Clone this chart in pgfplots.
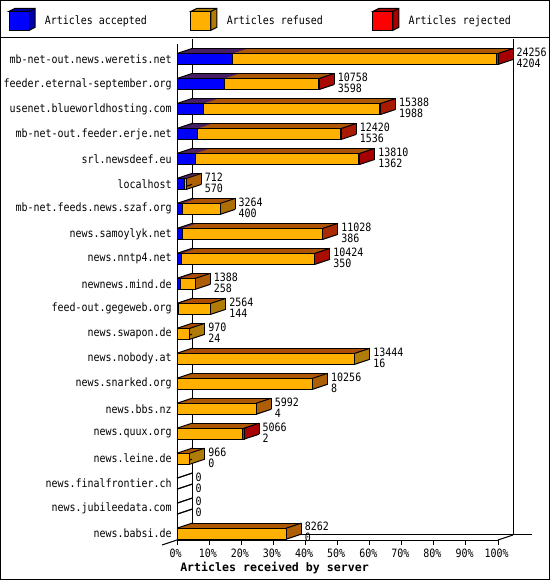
\documentclass[border=0pt]{standalone}
\usepackage{pgfplots}
\pgfplotsset{compat=1.18}
\usepackage{pgfplotstable}
\usepackage{fontspec}
\setmonofont{DejaVu Sans Mono}[FakeStretch=0.87]
\newfontfamily\titlefont{DejaVu Sans Mono}
\newcommand\lbl{\ttfamily\fontsize{8.6pt}{8.25pt}\selectfont}

\definecolor{accfront}{RGB}{0,0,255}
\definecolor{accback}{RGB}{0,0,168}
\definecolor{reffront}{RGB}{255,176,0}
\definecolor{refback}{RGB}{176,124,8}
\definecolor{rejfront}{RGB}{255,0,0}
\definecolor{rejback}{RGB}{168,0,0}

% legend box: front colour, top and side colour
\newcommand\legendcube[2]{%
  \path[draw=black, fill=#2, line width=0.75pt] (15pt,-7.1pt) -- (19.5pt,-4.85pt) -- (19.5pt,9.35pt) -- (4.5pt,9.35pt) -- (0pt,7.1pt) -- (15pt,7.1pt) -- cycle;
  \path[draw=black, line width=0.75pt] (15pt,7.1pt) -- (19.5pt,9.35pt);
  \path[draw=black, fill=#1, line width=0.75pt] (0pt,-7.1pt) rectangle (15pt,7.1pt);
}

% articles offered (tot), accepted (acc), rejected (rej); refused = tot-acc-rej
\pgfplotstableread{
idx tot   acc  rej
0   24256 4204 100
1   10758 3598 90
2   15388 1988 80
3   12420 1536 70
4   13810 1362 60
5   712   570  0
6   3264  400  0
7   11028 386  50
8   10424 350  70
9   1388  258  0
10  2564  144  0
11  970   24   0
12  13444 16   0
13  10256 8    0
14  5992  4    0
15  5066  2    100
16  966   0    0
17  0     0    0
18  0     0    0
19  8262  0    0
}\data

\pgfplotsset{
  bar/.style={xbar, bar width=8.25pt, bar shift=0pt},
  slice/.style={bar, forget plot, draw=none, xshift=#1*0.75pt, yshift=#1*0.25pt,
    x filter/.expression={x==0 ? nan : x}},
  edge/.style={forget plot, black, line width=0.75pt, -},
}

\begin{document}
\begin{tikzpicture}
\useasboundingbox (0,0) rectangle (412.5pt,435pt);
% back walls and floor, in pixels from the top left
\begin{scope}[x=0.75pt, y=-0.75pt, shift={(0pt,435pt)}, line width=0.75pt]
  \draw (192,39) -- (192,535) -- (532,535);
  \draw (513,39) -- (513,535);
  \draw (162,545) -- (192,535);
  \draw (498,540) -- (513,535);
\end{scope}

\begin{axis}[
  at={(132.75pt,30pt)}, anchor=south west,
  scale only axis, width=240.75pt, height=372pt,
  xmin=0, xmax=24256, ymin=-0.6, ymax=19.255,
  y dir=reverse, clip=false,
  axis x line*=bottom, axis y line*=left,
  axis line style={line width=0.75pt, -},
  scaled x ticks=false,
  xtick={0,2425.6,4851.2,7276.8,9702.4,12128,14553.6,16979.2,19404.8,21830.4,24256},
  xticklabels={0\%,10\%,20\%,30\%,40\%,50\%,60\%,70\%,80\%,90\%,100\%},
  ytick={0,...,19},
  yticklabels={mb-net-out.news.weretis.net,feeder.eternal-september.org,usenet.blueworldhosting.com,mb-net-out.feeder.erje.net,srl.newsdeef.eu,localhost,mb-net.feeds.news.szaf.org,news.samoylyk.net,news.nntp4.net,newnews.mind.de,feed-out.gegeweb.org,news.swapon.de,news.nobody.at,news.snarked.org,news.bbs.nz,news.quux.org,news.leine.de,news.finalfrontier.ch,news.jubileedata.com,news.babsi.de},
  tick align=outside, major tick length=3.75pt,
  ytick style={draw=none},
  xtick style={line width=0.75pt, black},
  tick label style={font=\lbl, inner sep=0pt},
  xticklabel style={yshift=-3pt, xshift=-1pt},
  xlabel={\titlefont\bfseries Articles received by server},
  xlabel style={at={(axis description cs:0.0093,0)}, anchor=base west, yshift=-23.25pt, inner sep=0pt, font=\fontsize{8.7pt}{10pt}\selectfont},
  legend columns=3, reverse legend,
  legend style={draw=none, inner sep=0pt, outer sep=0pt,
    at={(-0.5249,1.0728)}, anchor=north west, font=\lbl,
    /tikz/every odd column/.append style={column sep=5pt}},
  /pgf/number format/.cd, fixed, precision=0, 1000 sep={}, assume math mode=true,
]
% depth of the boxes, from back to front
\pgfplotsinvokeforeach{15,14,...,1}{
  \addplot[slice=#1, fill=rejback] table[x=tot, y=idx]{\data};
  \addplot[slice=#1, fill=refback] table[x expr=\thisrow{tot}-\thisrow{rej}, y=idx]{\data};
  \addplot[slice=#1, fill=accback] table[x=acc, y=idx]{\data};
}
% box edges
\addplot[edge, quiver={u=1133.5, v=-0.2}] table[x expr=0, y expr=\thisrow{idx}-0.22]{\data};
\addplot[edge, quiver={u=1133.5, v=-0.2}] table[x expr=0, y expr=\thisrow{idx}+0.22]{\data};
\addplot[edge, quiver={u=1133.5, v=-0.2}] table[x=tot, y expr=\thisrow{idx}-0.22]{\data};
\addplot[edge, quiver={u=1133.5, v=-0.2}] table[x=tot, y expr=\thisrow{idx}+0.22]{\data};
\addplot[edge, quiver={u=\thisrow{tot}, v=0}] table[x expr=1133.5, y expr=\thisrow{idx}-0.42]{\data};
\addplot[edge, quiver={u=0, v=0.44}] table[x expr=\thisrow{tot}+1133.5, y expr=\thisrow{idx}-0.42]{\data};
% front faces
\addplot[bar, fill=rejfront, draw=black, line width=0.75pt,
  legend image code/.code={\legendcube{rejfront}{rejback}},
  point meta=explicit,
  visualization depends on={\thisrow{acc}\as\acc},
  nodes near coords={\pgfmathprintnumber{\pgfplotspointmeta}\\\pgfmathprintnumber{\acc}},
  every node near coord/.append style={anchor=west, align=left, font=\lbl, inner sep=0pt, xshift=13.5pt, yshift=1pt}]
  table[x=tot, y=idx, meta=tot]{\data};
\addlegendentry{\makebox[107.2pt][l]{Articles rejected}}
\addplot[bar, fill=reffront, draw=black, line width=0.75pt,
  legend image code/.code={\legendcube{reffront}{refback}}]
  table[x expr=\thisrow{tot}-\thisrow{rej}, y=idx]{\data};
\addlegendentry{\makebox[107.2pt][l]{Articles refused}}
\addplot[bar, fill=accfront, draw=black, line width=0.75pt,
  legend image code/.code={\legendcube{accfront}{accback}}]
  table[x=acc, y=idx]{\data};
\addlegendentry{\makebox[107.2pt][l]{Articles accepted}}
\end{axis}

\begin{scope}[x=0.75pt, y=-0.75pt, shift={(0pt,435pt)}, line width=0.75pt]
  \draw (0.5,0.5) rectangle (549.5,579.5);
  \draw (0,37.5) -- (550,37.5);
\end{scope}
\end{tikzpicture}
\end{document}
